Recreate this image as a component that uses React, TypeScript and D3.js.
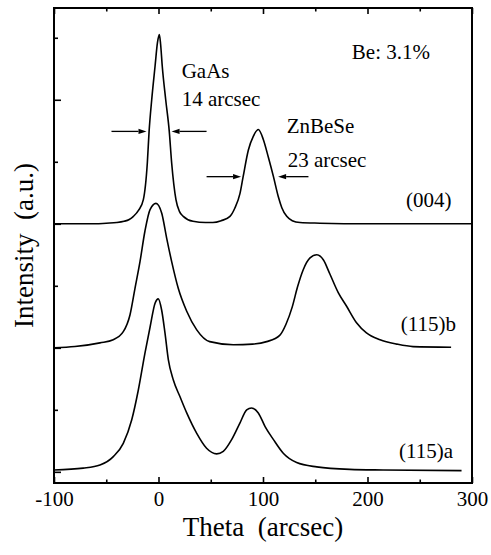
import { useEffect, useRef } from "react";
import * as d3 from "d3";

const width = 491;
const height = 555;
const marginTop = 8;
const marginBottom = 72;
const marginLeft = 54;
const marginRight = 19;
const font = "'Liberation Serif', 'Times New Roman', serif";

// Axis ticks
const thetaTicks = [-100, 0, 100, 200, 300];
const thetaMinorTicks = [-50, 50, 150, 250];
const intensityTicks = [0, 2, 4, 6];
const intensityMinorTicks = [1, 3, 5, 7];

// (004) scan, offset by 4
const theta004 = [-100, -60, -50, -40, -33, -28, -24, -19, -14.5, -10.7, -9, -6.5, -3.3, -1, 0.8, 2, 3.6, 6.9, 10.3, 12.6, 16.7, 20, 23.7, 33, 45, 52, 60, 68.4, 73, 78, 81, 86, 90.7, 95.5, 100.3, 105, 110, 114.6, 118, 122.7, 128, 135.4, 154.5, 200, 300];
const intensity004 = [4.0, 4.0, 4.01, 4.02, 4.04, 4.07, 4.12, 4.22, 4.39, 4.98, 5.49, 6.0, 6.54, 6.92, 7.05, 6.9, 6.54, 6.0, 5.49, 4.98, 4.39, 4.2, 4.12, 4.04, 4.02, 4.02, 4.05, 4.12, 4.25, 4.49, 4.76, 5.19, 5.41, 5.52, 5.36, 5.08, 4.76, 4.44, 4.26, 4.12, 4.05, 4.02, 4.01, 4.0, 4.0];

// (115)b scan, offset by 2
const theta115b = [-100, -80, -56, -43.3, -33.7, -27.3, -22.5, -17.7, -13, -8.1, -2.4, 3.1, 7.8, 12.6, 18.9, 27, 36.6, 49, 71.6, 90, 103.5, 116, 122, 128, 133, 138.5, 145, 151.4, 157.7, 164, 172, 180, 189.7, 199, 212, 228, 243.6, 280];
const intensity115b = [2.0, 2.02, 2.08, 2.13, 2.26, 2.53, 2.96, 3.39, 3.88, 4.23, 4.33, 4.17, 3.77, 3.39, 2.96, 2.59, 2.29, 2.1, 2.05, 2.06, 2.1, 2.2, 2.38, 2.66, 2.98, 3.26, 3.45, 3.5, 3.42, 3.19, 2.89, 2.67, 2.4, 2.24, 2.13, 2.06, 2.02, 2.01];

// (115)a scan, no offset
const theta115a = [-100, -72, -56, -43, -33.7, -25.6, -19.3, -13, -8, -3.3, -0.2, 3, 6.2, 9.4, 14.2, 20.6, 27, 36.6, 46, 55.7, 62, 70, 78, 84.4, 89, 95.5, 102, 110, 119.4, 132.2, 151.4, 183, 215, 290];
const intensity115a = [0.03, 0.06, 0.11, 0.25, 0.46, 0.84, 1.32, 1.91, 2.34, 2.72, 2.79, 2.61, 2.24, 1.81, 1.48, 1.21, 0.95, 0.62, 0.38, 0.29, 0.33, 0.52, 0.79, 1.0, 1.03, 0.95, 0.73, 0.52, 0.3, 0.15, 0.08, 0.04, 0.03, 0.02];

const App = () => {
	const xAxisRef = useRef(null);
	const xMinorRef = useRef(null);
	const topAxisRef = useRef(null);
	const topMinorRef = useRef(null);
	const yAxisRef = useRef(null);
	const yMinorRef = useRef(null);

	const xScale = d3
		.scaleLinear()
		.domain([-100, 300])
		.range([marginLeft, width - marginRight]);

	const yScale = d3
		.scaleLinear()
		.domain([-0.18, 7.48])
		.range([height - marginBottom, marginTop]);

	const line = d3
		.line()
		.x((d) => xScale(d[0]))
		.y((d) => yScale(d[1]))
		.curve(d3.curveMonotoneX);

	const curves = [
		d3.zip(theta004, intensity004),
		d3.zip(theta115b, intensity115b),
		d3.zip(theta115a, intensity115a),
	];

	useEffect(() => {
		const styleAxis = (g) => {
			g.select(".domain").remove();
			g.attr("font-family", font).attr("font-size", 21);
			g.selectAll("line").attr("stroke-width", 1.6);
		};
		d3.select(xAxisRef.current)
			.call(
				d3
					.axisBottom(xScale)
					.tickValues(thetaTicks)
					.tickSize(-6)
					.tickPadding(8)
					.tickFormat((d) => String(d))
			)
			.call(styleAxis);
		d3.select(xMinorRef.current)
			.call(d3.axisBottom(xScale).tickValues(thetaMinorTicks).tickSize(-3.5).tickFormat(() => ""))
			.call(styleAxis);
		d3.select(topAxisRef.current)
			.call(d3.axisTop(xScale).tickValues(thetaTicks).tickSize(-6).tickFormat(() => ""))
			.call(styleAxis);
		d3.select(topMinorRef.current)
			.call(d3.axisTop(xScale).tickValues(thetaMinorTicks).tickSize(-3.5).tickFormat(() => ""))
			.call(styleAxis);
		d3.select(yAxisRef.current)
			.call(d3.axisLeft(yScale).tickValues(intensityTicks).tickSize(-7).tickFormat(() => ""))
			.call(styleAxis);
		d3.select(yMinorRef.current)
			.call(d3.axisLeft(yScale).tickValues(intensityMinorTicks).tickSize(-4).tickFormat(() => ""))
			.call(styleAxis);
	}, []);

	const arrow = (x1, x2, y, key) => {
		const dir = Math.sign(x2 - x1);
		const head = 8;
		return (
			<g key={key}>
				<line x1={x1} x2={x2 - dir * head} y1={y} y2={y} stroke="black" strokeWidth={1.3} />
				<path d={`M${x2},${y} L${x2 - dir * head},${y - 2.6} L${x2 - dir * head},${y + 2.6} Z`} fill="black" />
			</g>
		);
	};

	const gaasY = yScale(5.49);
	const znY = yScale(4.76);

	return (
		<svg
			width={width}
			height={height}
			viewBox={`0 0 ${width} ${height}`}
			style={{ position: "absolute", left: 0, top: 0, background: "white" }}
		>
			<g className="curves" fill="none" stroke="black" strokeWidth={1.6} strokeLinejoin="round">
				{curves.map((c, i) => (
					<path key={i} d={line(c)} />
				))}
			</g>
			<rect
				x={marginLeft}
				y={marginTop}
				width={width - marginLeft - marginRight}
				height={height - marginTop - marginBottom}
				fill="none"
				stroke="black"
				strokeWidth={2}
			/>
			<g ref={xAxisRef} transform={`translate(0,${height - marginBottom})`} />
			<g ref={xMinorRef} transform={`translate(0,${height - marginBottom})`} />
			<g ref={topAxisRef} transform={`translate(0,${marginTop})`} />
			<g ref={topMinorRef} transform={`translate(0,${marginTop})`} />
			<g ref={yAxisRef} transform={`translate(${marginLeft},0)`} />
			<g ref={yMinorRef} transform={`translate(${marginLeft},0)`} />

			<g className="arrows">
				{arrow(xScale(-45), xScale(-11.5), gaasY, "a1")}
				{arrow(xScale(46), xScale(12.5), gaasY, "a2")}
				{arrow(xScale(46), xScale(79), znY, "a3")}
				{arrow(xScale(143.5), xScale(114.5), znY, "a4")}
			</g>

			<g className="labels" fontFamily={font} fontSize={21} fill="black">
				<text x={xScale(185)} y={yScale(6.65)}>Be: 3.1%</text>
				<text x={xScale(22.2)} y={yScale(6.35)}>GaAs</text>
				<text x={xScale(22.2)} y={yScale(5.9)}>14 arcsec</text>
				<text x={xScale(122.7)} y={yScale(5.47)}>ZnBeSe</text>
				<text x={xScale(123.6)} y={yScale(4.92)}>23 arcsec</text>
				<text x={xScale(280.3)} y={yScale(4.27)} textAnchor="end">(004)</text>
				<text x={xScale(284.7)} y={yScale(2.27)} textAnchor="end">(115)b</text>
				<text x={xScale(281.8)} y={yScale(0.23)} textAnchor="end">(115)a</text>
			</g>

			<text
				x={(marginLeft + width - marginRight) / 2}
				y={536}
				textAnchor="middle"
				fontFamily={font}
				fontSize={27}
				style={{ whiteSpace: "pre" }}
			>
				Theta  (arcsec)
			</text>
			<text
				transform={`translate(33,${(marginTop + height - marginBottom) / 2}) rotate(-90)`}
				textAnchor="middle"
				fontFamily={font}
				fontSize={27}
				style={{ whiteSpace: "pre" }}
			>
				Intensity  (a.u.)
			</text>
		</svg>
	);
};

export default App;
